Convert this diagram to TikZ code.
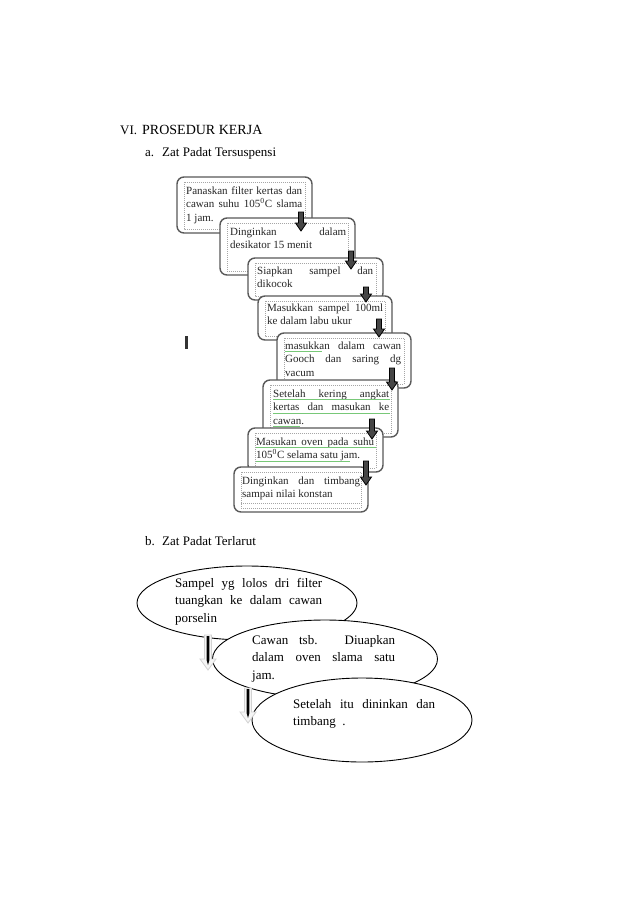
\documentclass[tikz,border=0pt]{standalone}
\usepackage{fontspec}
\setmainfont{Liberation Serif}
\usetikzlibrary{shapes.geometric}
\definecolor{spellgreen}{RGB}{120,200,120}
\newcommand\jb[2]{\makebox[#1][s]{#2}}
\newcommand\prosbox[8]{%
  \draw[outerbox] (#2,#3) rectangle (#4,#5);
  \draw[innerbox] ({#2+7},{#3+5}) rectangle ({#4-7},{#5-4});
  \node[boxtext] (#1) at (#6,#7) {\parbox[t]{120pt}{#8}};}
\newcommand\darrow[3]{%
  \filldraw[arrowfill] ({#1-2.5},#2) -- ({#1+2.5},#2) -- ({#1+2.5},{#3-8}) -- ({#1+5.5},{#3-8})
   -- (#1,#3) -- ({#1-5.5},{#3-8}) -- ({#1-2.5},{#3-8}) -- cycle;}
\newcommand\barrowb[3]{%
  \filldraw[shadowarrow] ({#1-3.5},#2) -- ({#1+3.5},#2) -- ({#1+3.5},{#3-11}) -- ({#1+8},{#3-11})
   -- (#1,#3) -- ({#1-8},{#3-11}) -- ({#1-3.5},{#3-11}) -- cycle;
  \fill[black] ({#1-1.4},{#2+1}) -- ({#1+1.4},{#2+1}) -- ({#1+1.4},{#3-10}) -- (#1,{#3-5}) -- ({#1-1.4},{#3-10}) -- cycle;}
\tikzset{
  outerbox/.style={draw=gray!70!black, line width=1.4pt, rounded corners=7pt, fill=white},
  innerbox/.style={draw=gray!70, dash pattern=on 1pt off 1pt, line width=0.5pt},
  boxtext/.style={anchor=base west, inner sep=0pt,
    font=\fontsize{11}{13.5}\selectfont, text=black!85},
  arrowfill/.style={fill=gray!55!black, draw=black, line width=0.8pt},
  shadowarrow/.style={fill=gray!8, draw=gray!35, line width=0.8pt},
  headtext/.style={anchor=base west, inner sep=0pt, font=\fontsize{13}{15}\selectfont},
  elltext/.style={anchor=base west, inner sep=0pt,
    font=\fontsize{13}{17.5}\selectfont},
  bubble/.style={ellipse, draw=black, line width=0.9pt, fill=white, inner sep=0pt},
  spell/.style={spellgreen, line width=0.6pt},
}
\begin{document}
\begin{tikzpicture}[x=1pt,y=-1pt]
\useasboundingbox[fill=white] (0,0) rectangle (638,903);

% headings
\node[headtext] (h1) at (120,134) {VI.};
\node[headtext, font=\fontsize{14}{16}\selectfont] (h2) at (142,134) {PROSEDUR KERJA};
\node[headtext] (h3) at (145,156) {a.};
\node[headtext] (h4) at (162,156) {Zat Padat Tersuspensi};
\node[headtext] (h5) at (145,545) {b.};
\node[headtext] (h6) at (162,545) {Zat Padat Terlarut};

% part a boxes
\prosbox{b1}{177}{177}{312}{233}{186}{194}{\jb{116pt}{Panaskan filter kertas dan}\\\jb{116pt}{cawan suhu 105\textsuperscript{0}C slama}\\1 jam.}
\prosbox{b2}{220}{218}{355}{275}{230}{235}{\jb{116pt}{Dinginkan dalam}\\desikator 15 menit}
\prosbox{b3}{248}{258}{383}{300}{257}{274}{\jb{116pt}{Siapkan sampel dan}\\dikocok}
\prosbox{b4}{258}{296}{392}{340}{267}{311}{\jb{116pt}{Masukkan sampel 100ml}\\ke dalam labu ukur}
\prosbox{b5}{277}{333}{411}{388}{285}{349}{\jb{116pt}{masukkan dalam cawan}\\\jb{116pt}{Gooch dan saring dg}\\vacum}
\prosbox{b6}{263}{380}{398}{437}{273}{397}{\jb{116pt}{Setelah kering angkat}\\\jb{116pt}{kertas dan masukan ke}\\cawan.}
\prosbox{b7}{248}{428}{383}{472}{256}{445}{\jb{118pt}{Masukan oven pada suhu}\\105\textsuperscript{0}C selama satu jam.}
\prosbox{b8}{234}{467}{368}{512}{242}{484}{\jb{118pt}{Dinginkan dan timbang}\\sampai nilai konstan}
\draw[innerbox] (241,503) -- (361,503);

% spell-check underlines
\draw[spell] (285,351.5) -- (322,351.5);
\draw[spell] (273,399.5) -- (390,399.5);
\draw[spell] (273,413) -- (390,413);
\draw[spell] (273,426.5) -- (300,426.5);
\draw[spell] (256,447.5) -- (376,447.5);
\draw[spell] (256,461) -- (350,461);

% block arrows
\darrow{301}{212}{231}
\darrow{351}{251}{269}
\darrow{366}{287}{302}
\darrow{379}{319}{337}
\darrow{392}{368}{390}
\darrow{372}{419}{439}
\darrow{366}{461}{485}

% stray mark
\fill[gray!40!black] (185,336) rectangle (187.5,349);

% part b ellipses
\node[bubble, minimum width=220pt, minimum height=74pt] (e1) at (247,603) {};
\node[elltext] (t1) at (175,587) {\parbox[t]{150pt}{\jb{147pt}{Sampel yg lolos dri filter}\\\jb{147pt}{tuangkan ke dalam cawan}\\porselin}};
\node[bubble, minimum width=225pt, minimum height=78pt] (e2) at (325,659) {};
\node[elltext] (t2) at (252,644) {\parbox[t]{146pt}{\jb{143pt}{Cawan tsb. Diuapkan}\\\jb{143pt}{dalam oven slama satu}\\jam.}};
\node[bubble, minimum width=220pt, minimum height=84pt] (e3) at (362,720) {};
\node[elltext] (t3) at (293,708) {\parbox[t]{146pt}{\jb{142pt}{Setelah itu dininkan dan}\\timbang\ \ .}};

\barrowb{208}{635}{670}
\barrowb{248}{688}{723}
\end{tikzpicture}
\end{document}
